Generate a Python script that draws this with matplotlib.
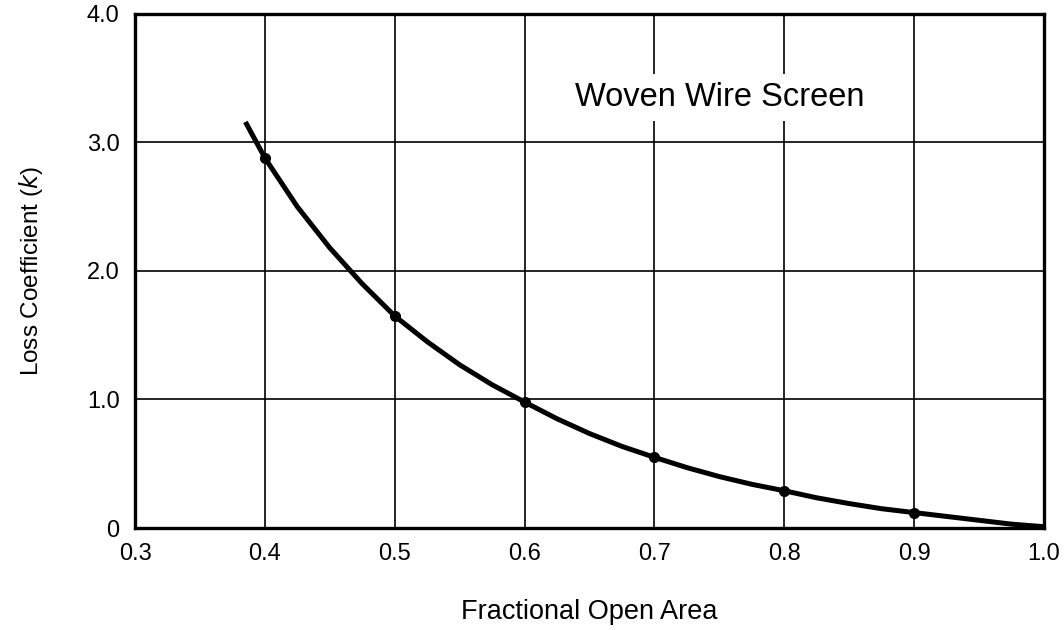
import numpy as np
import matplotlib.pyplot as plt

plt.rcParams['font.family'] = ['Liberation Sans', 'DejaVu Sans']

# curve
curve_x = [0.385, 0.40, 0.425, 0.45, 0.475, 0.50, 0.525, 0.55, 0.575, 0.60,
           0.625, 0.65, 0.675, 0.70, 0.725, 0.75, 0.775, 0.80, 0.825, 0.85,
           0.875, 0.90, 0.925, 0.95, 0.975, 1.00]
curve_k = [3.16, 2.88, 2.50, 2.18, 1.90, 1.65, 1.45, 1.27, 1.115, 0.98,
           0.85, 0.735, 0.635, 0.55, 0.47, 0.40, 0.34, 0.29, 0.235, 0.19,
           0.15, 0.12, 0.09, 0.06, 0.03, 0.01]

# marked points
pts_x = [0.4, 0.5, 0.6, 0.7, 0.8, 0.9]
pts_k = [2.88, 1.65, 0.98, 0.55, 0.29, 0.12]

xticks = [0.3, 0.4, 0.5, 0.6, 0.7, 0.8, 0.9, 1.0]
yticks = [0, 1.0, 2.0, 3.0, 4.0]
ylabels = ['0', '1.0', '2.0', '3.0', '4.0']

fig = plt.figure(figsize=(10.64, 6.30), dpi=100)
ax = fig.add_axes([0.1269, 0.1619, 0.8543, 0.8159])

ax.plot(curve_x, curve_k, color='black', lw=3.6, solid_capstyle='butt',
        solid_joinstyle='round', zorder=3)
ax.plot(pts_x, pts_k, 'o', color='black', ms=7, zorder=4)

ax.set_xlim(0.3, 1.0)
ax.set_ylim(0, 4.0)
ax.set_xticks(xticks)
ax.set_xticklabels([f'{v:.1f}' for v in xticks])
ax.set_yticks(yticks)
ax.set_yticklabels(ylabels)
ax.tick_params(length=0, labelsize=17, pad=11)
ax.grid(True, color='black', lw=1.2)
ax.set_axisbelow(True)
for s in ax.spines.values():
    s.set_linewidth(2.4)

ax.set_xlabel('Fractional Open Area', fontsize=19.5, labelpad=24)
ax.set_ylabel('Loss Coefficient ($\\it{k}$)', fontsize=17.5, labelpad=30)

ax.text(0.75, 3.35, 'Woven Wire Screen', fontsize=23.5, ha='center', va='center',
        bbox=dict(facecolor='white', edgecolor='none', pad=6), zorder=5)

fig.savefig('out.png', dpi=100)
